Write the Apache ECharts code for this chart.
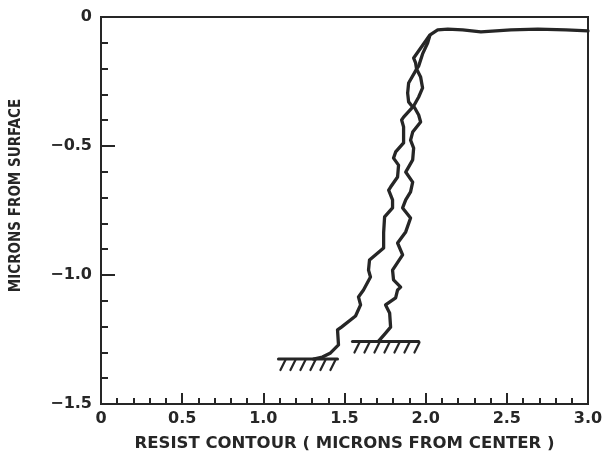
<!DOCTYPE html>
<html>
<head>
<meta charset="utf-8">
<script src="https://cdn.jsdelivr.net/npm/echarts@6/dist/echarts.min.js"></script>
<style>
  html, body { margin: 0; padding: 0; background: #ffffff; }
  #chart { width: 608px; height: 462px; }
</style>
</head>
<body>
<div id="chart"></div>
<script>
// Developed resist contours, depth below surface vs. distance from center (microns)
const innerContourX = [1.309, 1.364, 1.414, 1.463, 1.457, 1.481, 1.568, 1.599, 1.586, 1.617,
  1.660, 1.648, 1.654, 1.741, 1.741, 1.747, 1.796, 1.796, 1.772, 1.784,
  1.827, 1.833, 1.802, 1.815, 1.864, 1.864, 1.852, 1.864, 1.920, 1.895,
  1.889, 1.895, 1.944, 1.938, 1.926, 2.000, 2.025, 2.074, 2.136, 2.228,
  2.340, 2.525, 2.691, 2.864, 3.000];
const innerContourY = [-1.326, -1.318, -1.302, -1.271, -1.213, -1.202, -1.159, -1.116, -1.085, -1.058,
  -1.008, -0.981, -0.942, -0.895, -0.837, -0.775, -0.740, -0.709, -0.671, -0.659,
  -0.620, -0.574, -0.547, -0.523, -0.488, -0.426, -0.399, -0.388, -0.349, -0.329,
  -0.295, -0.256, -0.202, -0.178, -0.159, -0.093, -0.070, -0.050, -0.047, -0.050,
  -0.058, -0.050, -0.047, -0.050, -0.054];

const outerContourX = [1.710, 1.753, 1.784, 1.778, 1.753, 1.815, 1.827, 1.846, 1.802, 1.796,
  1.858, 1.827, 1.877, 1.907, 1.858, 1.877, 1.907, 1.920, 1.877, 1.920,
  1.926, 1.907, 1.920, 1.969, 1.957, 1.926, 1.957, 1.981, 1.969, 1.944,
  1.957, 1.981, 2.012, 2.025];
const outerContourY = [-1.256, -1.225, -1.202, -1.147, -1.116, -1.089, -1.058, -1.047, -1.019, -0.981,
  -0.922, -0.876, -0.833, -0.779, -0.740, -0.709, -0.678, -0.640, -0.601, -0.554,
  -0.508, -0.477, -0.446, -0.407, -0.380, -0.345, -0.310, -0.275, -0.233, -0.202,
  -0.190, -0.143, -0.101, -0.074];

// Substrate (interface) markers: start x, end x, depth
const substrateX0 = [1.093, 1.549];
const substrateX1 = [1.457, 1.957];
const substrateY = [-1.326, -1.258];

const xTickLabels = ['0', '0.5', '1.0', '1.5', '2.0', '2.5', '3.0'];
const yTickLabels = ['0', '\u22120.5', '\u22121.0', '\u22121.5'];

const INK = '#262626';

const zip = (xs, ys) => xs.map((x, i) => [x, ys[i]]);
const substrateData = substrateX0.map((x0, i) => [x0, substrateX1[i], substrateY[i]]);

// Ground-line marker with hatching below it
function renderSubstrate(params, api) {
  const a = api.coord([api.value(0), api.value(2)]);
  const b = api.coord([api.value(1), api.value(2)]);
  const children = [{
    type: 'line',
    shape: { x1: a[0], y1: a[1], x2: b[0], y2: b[1] },
    style: { stroke: INK, lineWidth: 3, lineCap: 'round' }
  }];
  const span = b[0] - a[0];
  const n = Math.floor((span - 4) / 10) + 1;
  for (let k = 0; k < n; k++) {
    const px = a[0] + 7 + k * 10;
    children.push({
      type: 'line',
      shape: { x1: px, y1: a[1] + 1, x2: px - 5, y2: a[1] + 11 },
      style: { stroke: INK, lineWidth: 2.2, lineCap: 'round' }
    });
  }
  return { type: 'group', children };
}

const chart = echarts.init(document.getElementById('chart'), null, { renderer: 'canvas' });

const labelFont = { fontFamily: 'DejaVu Sans', fontWeight: 'bold', fontSize: 16, color: INK };

chart.setOption({
  animation: false,
  backgroundColor: '#ffffff',
  grid: {
    left: 101, top: 17, width: 487, height: 387,
    show: true, borderColor: INK, borderWidth: 2, backgroundColor: 'transparent'
  },
  xAxis: {
    type: 'value', min: 0, max: 3, interval: 0.5,
    name: 'RESIST CONTOUR ( MICRONS FROM CENTER )',
    nameLocation: 'middle', nameGap: 31,
    nameTextStyle: { fontFamily: 'DejaVu Sans', fontWeight: 'bold', fontSize: 16.5, color: INK },
    axisLine: { show: true, onZero: false, lineStyle: { color: INK, width: 2 } },
    axisTick: { show: true, inside: true, length: 11, lineStyle: { color: INK, width: 2 } },
    minorTick: { show: true, splitNumber: 5, length: 6, lineStyle: { color: INK, width: 2 } },
    splitLine: { show: false },
    axisLabel: Object.assign({
      margin: 7,
      formatter: v => xTickLabels[Math.round(v / 0.5)]
    }, labelFont)
  },
  yAxis: {
    type: 'value', min: -1.5, max: 0, interval: 0.5,
    name: 'MICRONS FROM SURFACE',
    nameLocation: 'middle', nameGap: 77, nameRotate: 90,
    nameTextStyle: {
      fontFamily: 'DejaVu Sans Condensed, DejaVu Sans',
      fontWeight: 'bold', fontSize: 15, color: INK,
      padding: [0, 0, 0, 30]
    },
    axisLine: { show: true, onZero: false, lineStyle: { color: INK, width: 2 } },
    axisTick: { show: true, inside: true, length: 14, lineStyle: { color: INK, width: 2 } },
    minorTick: { show: true, splitNumber: 5, length: 7, lineStyle: { color: INK, width: 2 } },
    splitLine: { show: false },
    axisLabel: Object.assign({
      margin: 9,
      formatter: v => yTickLabels[Math.round(-v / 0.5)]
    }, labelFont)
  },
  series: [
    {
      name: 'inner', type: 'line', data: zip(innerContourX, innerContourY),
      showSymbol: false, symbol: 'none', silent: true,
      lineStyle: { color: INK, width: 3.3, join: 'round', cap: 'round' }
    },
    {
      name: 'outer', type: 'line', data: zip(outerContourX, outerContourY),
      showSymbol: false, symbol: 'none', silent: true,
      lineStyle: { color: INK, width: 3.3, join: 'round', cap: 'round' }
    },
    {
      name: 'substrate', type: 'custom', data: substrateData,
      encode: { x: [0, 1], y: 2 }, silent: true,
      renderItem: renderSubstrate
    }
  ]
});
</script>
</body>
</html>
